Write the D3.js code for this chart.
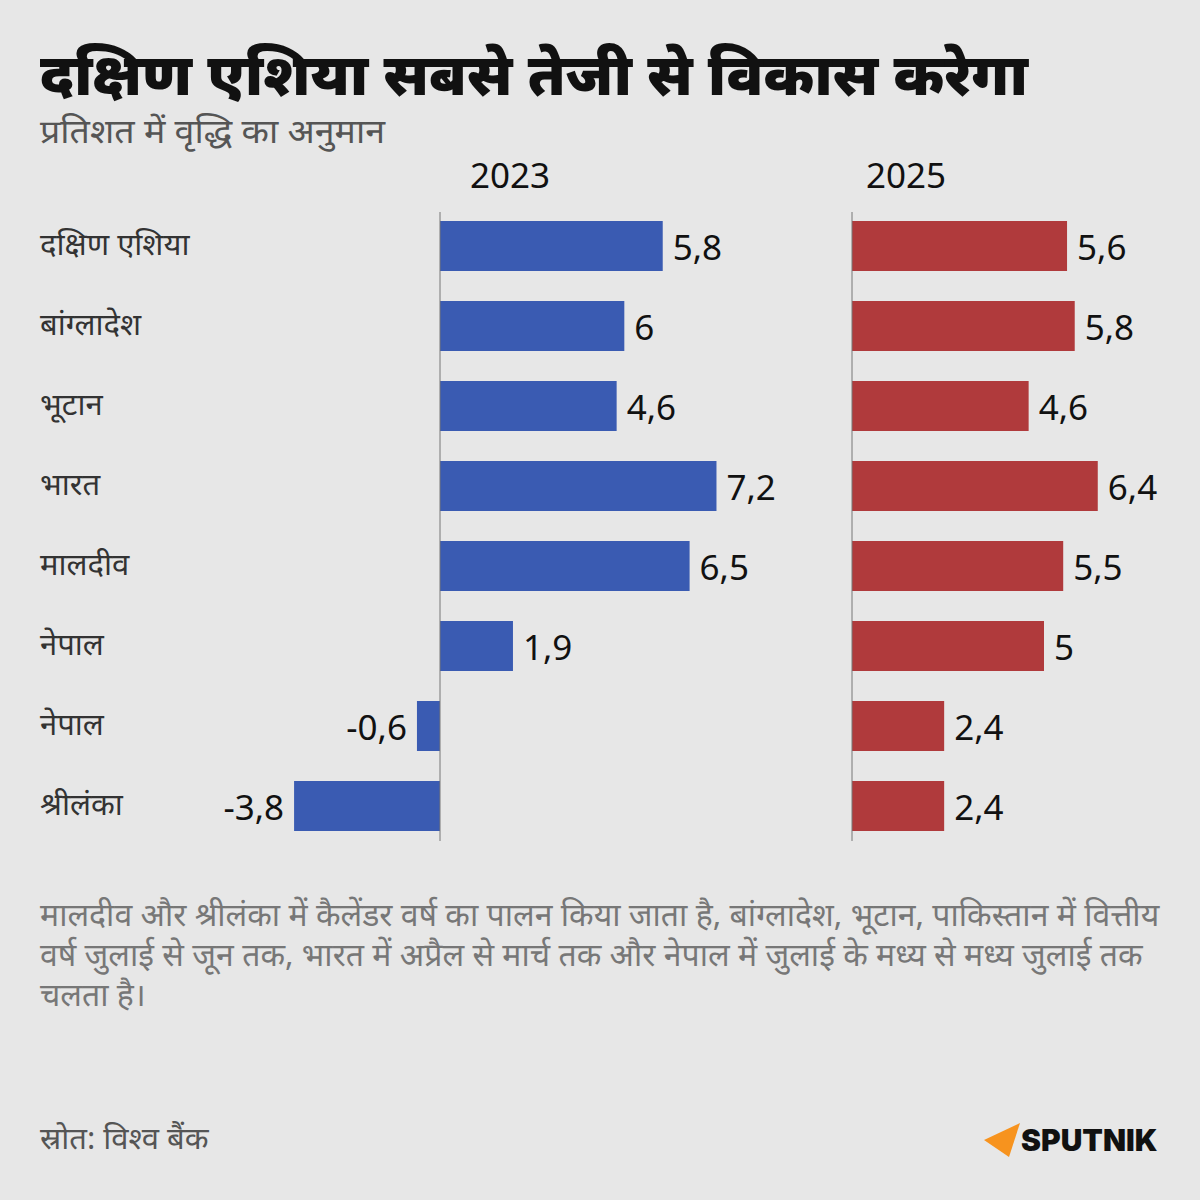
<!DOCTYPE html>
<html><head><meta charset="utf-8">
<script src="https://cdn.jsdelivr.net/npm/d3@7"></script>
<style>
html,body{margin:0;padding:0;background:#e7e7e7;}
svg{display:block;font-family:"Noto Sans","Noto Sans Devanagari","Open Sans",sans-serif;}
</style></head>
<body>
<script>
const categories = ["दक्षिण एशिया","बांग्लादेश","भूटान","भारत","मालदीव","नेपाल","नेपाल","श्रीलंका"];
// bar lengths as drawn in the reference
const values2023 = [5.8, 4.8, 4.6, 7.2, 6.5, 1.9, -0.6, -3.8];
const labels2023 = ["5,8","6","4,6","7,2","6,5","1,9","-0,6","-3,8"];
const values2025 = [5.6, 5.8, 4.6, 6.4, 5.5, 5.0, 2.4, 2.4];
const labels2025 = ["5,6","5,8","4,6","6,4","5,5","5","2,4","2,4"];
const years = ["2023","2025"];
const title = "दक्षिण एशिया सबसे तेजी से विकास करेगा";
const subtitle = "प्रतिशत में वृद्धि का अनुमान";
const noteLines = ["मालदीव और श्रीलंका में कैलेंडर वर्ष का पालन किया जाता है, बांग्लादेश, भूटान, पाकिस्तान में वित्तीय",
 "वर्ष जुलाई से जून तक, भारत में अप्रैल से मार्च तक और नेपाल में जुलाई के मध्य से मध्य जुलाई तक",
 "चलता है।"];
const source = "स्रोत: विश्व बैंक";

const W=1200,H=1200;
const svg=d3.select("body").append("svg").attr("width",W).attr("height",H);
svg.append("rect").attr("width",W).attr("height",H).attr("fill","#e7e7e7");

svg.append("text").attr("x",40).attr("y",95).attr("font-size",58).attr("font-weight",900)
  .attr("fill","#111").attr("textLength",988).attr("lengthAdjust","spacingAndGlyphs").text(title);
svg.append("text").attr("x",40).attr("y",143).attr("font-size",33).attr("fill","#555")
  .attr("textLength",345).attr("lengthAdjust","spacingAndGlyphs").text(subtitle);

const y2=d3.scaleBand().domain(d3.range(categories.length)).range([206,846]).paddingInner(30/80).paddingOuter(15/80);

const x1=d3.scaleLinear().domain([0,1]).range([440,440+38.4]);
const x2=d3.scaleLinear().domain([0,1]).range([852,852+38.4]);

// category labels
svg.append("g").selectAll("text").data(categories).join("text")
  .attr("x",40).attr("y",(d,i)=>y2(i)+y2.bandwidth()/2-2).attr("dy","0.35em")
  .attr("font-size",31).attr("fill","#333").text(d=>d);

function panel(x,vals,labels,color,year,yearDx){
  const g=svg.append("g");
  g.selectAll("rect").data(vals).join("rect")
    .attr("x",d=>Math.min(x(0),x(d))).attr("width",d=>Math.abs(x(d)-x(0)))
    .attr("y",(d,i)=>y2(i)).attr("height",y2.bandwidth()).attr("fill",color);
  g.append("line").attr("x1",x(0)).attr("x2",x(0)).attr("y1",212).attr("y2",841)
    .attr("stroke","#777").attr("stroke-width",1);
  g.selectAll("text.v").data(vals).join("text").attr("class","v")
    .attr("x",d=>d>=0?x(d)+10:x(d)-10).attr("text-anchor",d=>d>=0?"start":"end")
    .attr("y",(d,i)=>y2(i)+y2.bandwidth()/2+2).attr("dy","0.35em")
    .attr("font-size",35).attr("fill","#111").text((d,i)=>labels[i]);
  g.append("text").attr("x",x(0)+yearDx).attr("y",188).attr("font-size",35).attr("fill","#111").text(year);
}
panel(x1,values2023,labels2023,"#3a5bb2",years[0],30);
panel(x2,values2025,labels2025,"#b03a3c",years[1],14);

svg.append("g").selectAll("text").data(noteLines).join("text")
  .attr("x",40).attr("y",(d,i)=>926+i*40).attr("font-size",32).attr("fill","#777").text(d=>d);

svg.append("text").attr("x",40).attr("y",1149).attr("font-size",31).attr("fill","#555").text(source);

// Sputnik logo
const lg=svg.append("g");
lg.append("path").attr("d","M984,1140 L1020,1123 L1009,1157 Z").attr("fill","#f7931e");
lg.append("text").attr("x",1021).attr("y",1151).attr("font-size",30).attr("font-weight",900)
  .attr("font-family","Inter, Roboto, sans-serif").attr("fill","#111").text("SPUTNIK");
</script>
</body></html>
